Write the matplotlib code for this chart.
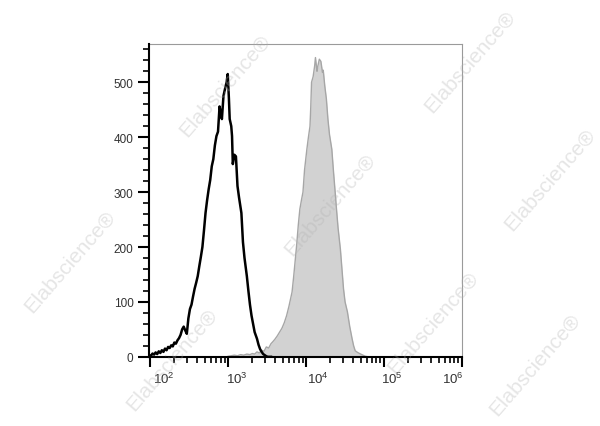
import matplotlib
matplotlib.use("Agg")
import matplotlib.pyplot as plt
import numpy as np
from matplotlib.ticker import LogLocator, MultipleLocator
from matplotlib.transforms import ScaledTranslation

plt.rcParams['font.family'] = ['Liberation Sans', 'DejaVu Sans']
plt.rcParams['mathtext.default'] = 'regular'

# unstained / isotype control (black outline) - position in log decades, event count
ctrl_dec = [1.97, 1.99, 2.01, 2.03, 2.05, 2.07, 2.09, 2.11, 2.13, 2.15, 2.17, 2.19, 2.21, 2.23,
            2.25, 2.27, 2.29, 2.31, 2.33, 2.35, 2.37, 2.39, 2.41, 2.43, 2.45, 2.47, 2.49, 2.51,
            2.53, 2.55, 2.57, 2.59, 2.61, 2.63, 2.65, 2.67, 2.69, 2.71, 2.73, 2.75, 2.77, 2.79,
            2.81, 2.83, 2.85, 2.87, 2.89, 2.91, 2.92, 2.94, 2.96, 2.98, 2.995, 3.01, 3.02, 3.04,
            3.05, 3.06, 3.08, 3.10, 3.12, 3.14, 3.17, 3.19, 3.21, 3.24, 3.26, 3.28, 3.30, 3.32,
            3.34, 3.37, 3.39, 3.41, 3.43, 3.45, 3.47, 3.49, 3.51, 3.55]
ctrl_cnt = [0, 3, 2, 6, 4, 8, 5, 10, 7, 12, 9, 15, 12, 18,
            16, 21, 19, 26, 24, 30, 34, 40, 50, 55, 48, 42, 70, 87,
            95, 110, 124, 135, 147, 165, 182, 200, 230, 262, 285, 305, 322, 347,
            360, 385, 402, 410, 456, 440, 433, 475, 488, 500, 515, 470, 433, 420,
            402, 351, 368, 365, 311, 290, 262, 209, 180, 147, 120, 95, 75, 60,
            45, 33, 22, 14, 9, 5, 3, 1, 0, 0]

# stained sample (gray filled)
stain_dec = [3.00, 3.04, 3.08, 3.12, 3.16, 3.20, 3.24, 3.28, 3.31, 3.34, 3.37, 3.40, 3.43, 3.46,
             3.49, 3.52, 3.55, 3.57, 3.60, 3.63, 3.66, 3.69, 3.72, 3.75, 3.78, 3.80, 3.82, 3.84,
             3.86, 3.88, 3.90, 3.92, 3.94, 3.96, 3.98, 4.01, 4.03, 4.05, 4.06, 4.07, 4.09, 4.11,
             4.12, 4.14, 4.15, 4.17, 4.19, 4.21, 4.22, 4.24, 4.26, 4.28, 4.30, 4.33, 4.35, 4.37,
             4.39, 4.41, 4.44, 4.46, 4.48, 4.50, 4.53, 4.56, 4.59, 4.61, 4.63, 4.66, 4.70, 4.73,
             4.76, 4.80]
stain_cnt = [1, 2, 3, 2, 4, 3, 5, 4, 6, 5, 9, 7, 12, 10,
             18, 16, 24, 27, 32, 38, 45, 52, 62, 75, 92, 105, 118, 145,
             175, 205, 240, 269, 285, 300, 340, 378, 400, 420, 455, 500, 510, 530,
             545, 520, 529, 542, 538, 518, 522, 493, 470, 433, 405, 378, 340, 305,
             269, 235, 196, 160, 124, 100, 82, 55, 33, 20, 11, 8, 5, 3,
             1, 0]

y_ticks = [0, 100, 200, 300, 400, 500]
x_ticks = [1e2, 1e3, 1e4, 1e5, 1e6]
x_labels = ["$10^{2}$", "$10^{3}$", "$10^{4}$", "$10^{5}$", "$10^{6}$"]

ctrl_x = 10 ** np.array(ctrl_dec)
stain_x = 10 ** np.array(stain_dec)

fig = plt.figure(figsize=(6, 4.27), dpi=100)
ax = fig.add_axes([0.248, 0.162, 0.522, 0.733])

ax.fill_between(stain_x, stain_cnt, 0, color="#d2d2d2", lw=0, zorder=2)
ax.plot(stain_x, stain_cnt, color="#a6a6a6", lw=1.0, zorder=3)
ax.plot(ctrl_x, ctrl_cnt, color="black", lw=1.8, zorder=4)

ax.set_xscale("log")
ax.set_xlim(96, 1e6)
ax.set_ylim(0, 570)
ax.set_yticks(y_ticks)
ax.yaxis.set_minor_locator(MultipleLocator(20))
ax.set_xticks(x_ticks)
ax.set_xticklabels(x_labels)
ax.xaxis.set_minor_locator(LogLocator(base=10, subs=np.arange(2, 10), numticks=20))

for side in ["top", "right"]:
    ax.spines[side].set_color("#9a9a9a")
    ax.spines[side].set_linewidth(0.8)
for side in ["left", "bottom"]:
    ax.spines[side].set_color("black")
    ax.spines[side].set_linewidth(1.5)
    ax.spines[side].set_zorder(5)

ax.tick_params(axis="y", which="major", length=8, width=1.5, pad=3, labelsize=8.5, labelcolor="#333333")
ax.tick_params(axis="y", which="minor", length=4, width=1.2)
ax.tick_params(axis="x", which="major", length=7, width=1.5, pad=3, labelsize=9.5, labelcolor="#333333")
ax.tick_params(axis="x", which="minor", length=4, width=1.2)

# labels in the reference sit a little off their ticks
offsets = [14, 9, 12, 8, -9]
for lab, dx in zip(ax.get_xticklabels(), offsets):
    lab.set_transform(lab.get_transform() + ScaledTranslation(dx / 100, 0, fig.dpi_scale_trans))

# watermark
wm = [(225, 86), (470, 62), (550, 180), (70, 262), (330, 205), (433, 323),
      (172, 360), (535, 365)]
for px, py in wm:
    fig.text(px / 600, 1 - py / 427, "Elabscience\u00ae", rotation=49, fontsize=15,
             color="#b0b0b0", alpha=0.32, ha="center", va="center", zorder=10)

fig.savefig("out.png", dpi=100)
